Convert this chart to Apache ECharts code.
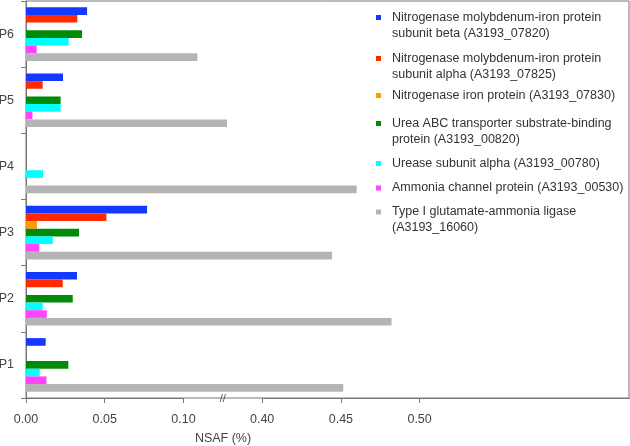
<!DOCTYPE html>
<html>
<head>
<meta charset="utf-8">
<script src="https://cdn.jsdelivr.net/npm/echarts@6/dist/echarts.min.js"></script>
<style>html,body{margin:0;padding:0;background:#fff}#c{width:630px;height:446px}</style>
</head>
<body>
<div id="c"></div>
<script>
// Categories (bottom to top)
const categories = ['P1', 'P2', 'P3', 'P4', 'P5', 'P6'];
// NSAF (%) values per protein
const nifK = [0.0125, 0.0324, 0.0769, null, 0.0235, 0.0388];
const nifD = [null, 0.0233, 0.0511, null, 0.0106, 0.0326];
const nifH = [null, null, 0.0070, null, null, null];
const ureaABC = [0.0269, 0.0297, 0.0337, null, 0.0220, 0.0356];
const ureC = [0.0087, 0.0106, 0.0170, 0.0108, 0.0220, 0.0271];
const amtB = [0.0130, 0.0132, 0.0085, null, 0.0041, 0.0068];
const glnA = [0.4515, 0.4822, 0.4444, 0.4600, 0.2660, 0.1534];
// Series names
const names = [
  'Nitrogenase molybdenum-iron protein\nsubunit beta (A3193_07820)',
  'Nitrogenase molybdenum-iron protein\nsubunit alpha (A3193_07825)',
  'Nitrogenase iron protein (A3193_07830)',
  'Urea ABC transporter substrate-binding\nprotein (A3193_00820)',
  'Urease subunit alpha (A3193_00780)',
  'Ammonia channel protein (A3193_00530)',
  'Type I glutamate-ammonia ligase\n(A3193_16060)'
];
const seriesValues = [nifK, nifD, nifH, ureaABC, ureC, amtB, glnA];
const colors = ['#1538ff', '#ff2a00', '#ff9a00', '#008a0a', '#00ffff', '#ff44ff', '#b4b4b4'];
// x-axis tick labels
const xTicks = [0, 0.05, 0.10, 0.40, 0.45, 0.50];
const xBreak = { start: 0.10, end: 0.40 };

const FONT = '"Liberation Sans", Arial, sans-serif';
const chart = echarts.init(document.getElementById('c'), null, { renderer: 'canvas' });

const L = 16;
// vertical centre of each legend entry's first text line
const legendRows = [17.5, 58.5, 95.5, 123.5, 163.5, 188, 212];

const legends = names.map((n, i) => {
  const two = n.indexOf('\n') >= 0;
  return {
    orient: 'vertical', left: 376, top: legendRows[i] - (two ? 1.5 * L : 0.5 * L), padding: 0,
    itemWidth: 5, itemHeight: 5, icon: 'rect', selectedMode: false,
    formatter: s => s.split('\n').map(t => '{t|' + t + '}').join('\n'),
    textStyle: { fontSize: 12.5, lineHeight: L, color: '#333', fontFamily: FONT,
      padding: two ? [L, 0, 0, 6] : [0, 0, 0, 6],
      rich: { t: { fontSize: 12.5, lineHeight: L, color: '#333', fontFamily: FONT } } },
    data: [n]
  };
});

const option = {
  animation: false,
  textStyle: { fontFamily: FONT },
  grid: { left: 26, right: 1, top: 1, bottom: 48, show: true, borderColor: '#777', borderWidth: 1,
    outerBoundsMode: 'none', containLabel: false },
  legend: legends,
  xAxis: {
    type: 'value', min: 0, max: 0.633,
    breaks: [{ start: xBreak.start, end: xBreak.end, gap: 0.05 }],
    breakArea: { show: false, expandOnClick: false },
    splitLine: { show: false },
    axisLine: { show: true, lineStyle: { color: '#777' } },
    axisTick: { show: true, length: 5, lineStyle: { color: '#777' }, customValues: xTicks },
    axisLabel: { fontSize: 12.5, color: '#444', margin: 15, customValues: xTicks,
      formatter: v => v.toFixed(2) },
    name: 'NSAF (%)', nameLocation: 'middle', nameGap: 34,
    nameTextStyle: { fontSize: 12.5, color: '#444', padding: [0, 209, 0, 0] }
  },
  yAxis: {
    type: 'category', data: categories,
    axisLine: { show: true, lineStyle: { color: '#777' } },
    axisTick: { show: true, length: 5, lineStyle: { color: '#777' } },
    axisLabel: { fontSize: 12.5, color: '#444', margin: 12 }
  },
  series: names.map((n, i) => ({
    name: n, type: 'bar', data: seriesValues[i],
    itemStyle: { color: colors[i] },
    barGap: '0%', barCategoryGap: '19%'
  }))
};
chart.setOption(option);

const p1 = chart.convertToPixel({ xAxisIndex: 0 }, xBreak.start);
const p2 = chart.convertToPixel({ xAxisIndex: 0 }, xBreak.end);
chart.setOption({
  graphic: [{
    type: 'text', x: (p1 + p2) / 2, y: 399, z: 100,
    style: { text: '//', fontSize: 11, fill: '#555', align: 'center', verticalAlign: 'middle', fontFamily: FONT }
  }]
});
</script>
</body>
</html>
